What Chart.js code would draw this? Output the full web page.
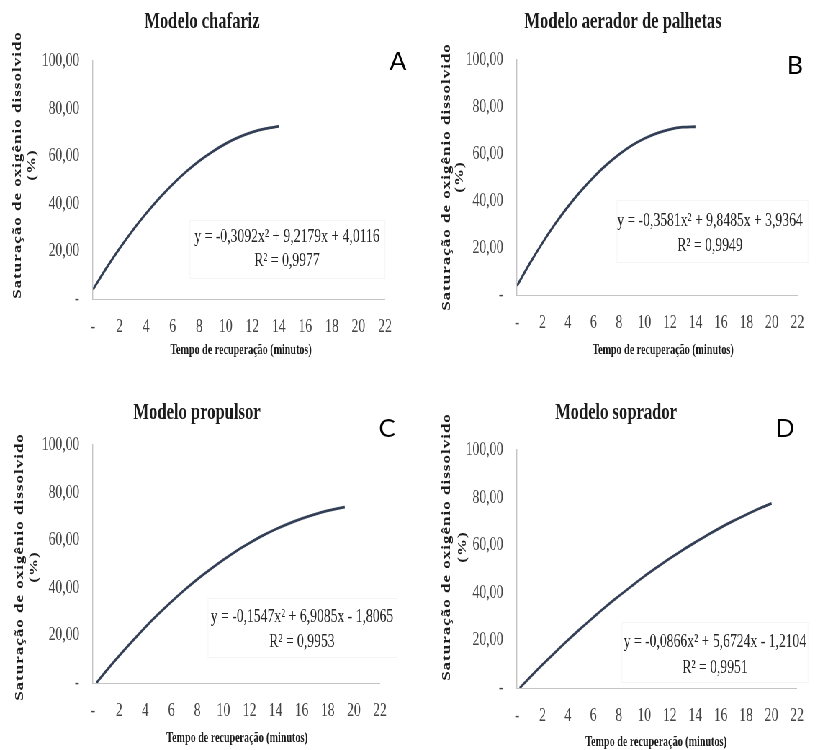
<!DOCTYPE html>
<html>
<head>
<meta charset="utf-8">
<script src="https://cdn.jsdelivr.net/npm/chart.js@4.4.1/dist/chart.umd.min.js"></script>
<style>
  html, body { margin: 0; padding: 0; background: #fff; overflow: hidden; width: 816px; height: 750px; }
  #stage { position: absolute; left: 0; top: 0; transform: scaleX(0.72); transform-origin: 0 0; }
  #stage canvas { position: absolute; left: 0; top: 0; }
</style>
</head>
<body>
<div id="stage">
  <canvas id="chartA" width="1134" height="750"></canvas>
  <canvas id="chartB" width="1134" height="750"></canvas>
  <canvas id="chartC" width="1134" height="750"></canvas>
  <canvas id="chartD" width="1134" height="750"></canvas>
</div>
<script>
// values (minutes -> % saturation)
const minutesA = [0, 1, 2, 3, 4, 5, 6, 7, 8, 9, 10, 11, 12, 13, 14];
const chafariz = [4.0, 12.9, 21.2, 28.9, 35.9, 42.4, 48.2, 53.4, 58.0, 61.9, 65.3, 68.0, 70.1, 71.6, 72.5];

const minutesB = [0, 1, 2, 3, 4, 5, 6, 7, 8, 9, 10, 11, 12, 13, 14];
const palhetas = [3.9, 13.4, 22.2, 30.3, 37.6, 44.2, 50.1, 55.3, 59.8, 63.6, 66.6, 68.9, 70.5, 71.4, 71.6];

const minutesC = [0.26, 1, 2, 3, 4, 5, 6, 7, 8, 9, 10, 11, 12, 13, 14, 15, 16, 17, 18, 19, 19.3];
const propulsor = [0, 5.0, 11.4, 17.5, 23.4, 28.9, 34.1, 39.0, 43.6, 47.8, 51.8, 55.5, 58.8, 61.9, 64.6, 67.0, 69.1, 70.9, 72.4, 73.6, 73.9];

const minutesD = [0.21, 1, 2, 3, 4, 5, 6, 7, 8, 9, 10, 11, 12, 13, 14, 15, 16, 17, 18, 19, 20];
const soprador = [0, 4.4, 9.8, 15.0, 20.1, 25.0, 29.7, 34.3, 38.6, 42.8, 46.9, 50.7, 54.4, 57.9, 61.2, 64.4, 67.4, 70.2, 72.8, 75.3, 77.6];

const xTicks = [0, 2, 4, 6, 8, 10, 12, 14, 16, 18, 20, 22];
const yTicks = [0, 20, 40, 60, 80, 100];

const titles = ['Modelo chafariz', 'Modelo aerador de palhetas', 'Modelo propulsor', 'Modelo soprador'];
const equations = [
  'y = -0,3092x² + 9,2179x + 4,0116',
  'y = -0,3581x² + 9,8485x + 3,9364',
  'y = -0,1547x² + 6,9085x - 1,8065',
  'y = -0,0866x² + 5,6724x - 1,2104'
];
const rSquared = ['R² = 0,9977', 'R² = 0,9949', 'R² = 0,9953', 'R² = 0,9951'];
const letters = ['A', 'B', 'C', 'D'];

const yTitle = ['Saturação de oxigênio dissolvido', '(%)'];
const xTitle = 'Tempo de recuperação (minutos)';

const S = 0.72;          // horizontal squeeze of the original figure
const CW = 1134, CH = 750;
const LINE = '#333f56';

// screen positions of every panel piece
const panels = [
  { id: 'chartA', xs: minutesA, ys: chafariz,
    area: { left: 93, right: 385, top: 61, bottom: 299 },
    title: [202, 22], yT: [18, 32, 165], xT: [241, 350], eq: [287, 237, 261],
    box: [190, 220, 385, 278], letter: [398, 70] },
  { id: 'chartB', xs: minutesB, ys: palhetas,
    area: { left: 517, right: 807, top: 60, bottom: 295 },
    title: [623, 22], yT: [447, 460, 177], xT: [663, 350], eq: [710, 221, 246],
    box: [617, 200, 808, 262], letter: [795, 74] },
  { id: 'chartC', xs: minutesC, ys: propulsor,
    area: { left: 93, right: 380, top: 445, bottom: 683 },
    title: [197, 413], yT: [20, 34, 567], xT: [237, 738], eq: [302, 617, 642],
    box: [208, 598, 397, 657], letter: [387, 437] },
  { id: 'chartD', xs: minutesD, ys: soprador,
    area: { left: 517, right: 797, top: 450, bottom: 688 },
    title: [616, 413], yT: [447, 463, 547], xT: [656, 742], eq: [715, 642, 668],
    box: [622, 622, 808, 682], letter: [785, 437] }
];

function panelTexts(p, i) {
  return {
    id: 'panelTexts',
    afterDraw(chart) {
      const ctx = chart.ctx;
      ctx.save();
      ctx.textAlign = 'center';
      ctx.textBaseline = 'middle';

      ctx.fillStyle = '#1c1c1c';
      ctx.font = 'bold 23px "Liberation Serif"';
      ctx.fillText(titles[i], p.title[0] / S, p.title[1]);

      ctx.font = 'bold 14px "Liberation Serif"';
      ctx.fillText(xTitle, p.xT[0] / S, p.xT[1]);

      ctx.font = 'bold 17px "Liberation Serif"';
      ctx.letterSpacing = '1px';
      [p.yT[0], p.yT[1]].forEach((x, k) => {
        ctx.save();
        ctx.translate(x / S, p.yT[2]);
        ctx.rotate(-Math.PI / 2);
        ctx.fillText(yTitle[k], 0, 0);
        ctx.restore();
      });
      ctx.letterSpacing = '0px';

      // faint frame round the trendline label
      ctx.strokeStyle = '#f5f5f5';
      ctx.lineWidth = 1;
      ctx.strokeRect(p.box[0] / S, p.box[1] + 0.5, (p.box[2] - p.box[0]) / S, p.box[3] - p.box[1]);

      ctx.fillStyle = '#262626';
      ctx.font = '19px "Liberation Serif"';
      ctx.fillText(equations[i], p.eq[0] / S, p.eq[1]);
      ctx.fillText(rSquared[i], p.eq[0] / S, p.eq[2]);

      ctx.scale(1 / S, 1);
      ctx.fillStyle = '#000';
      ctx.font = '25px Lato';
      ctx.textBaseline = 'alphabetic';
      ctx.fillText(letters[i], p.letter[0], p.letter[1]);
      ctx.restore();
    }
  };
}

function fmtY(v) {
  return v === 0 ? '-' : v.toFixed(2).replace('.', ',');
}

panels.forEach((p, i) => {
  new Chart(document.getElementById(p.id), {
    type: 'line',
    data: {
      datasets: [{
        data: p.xs.map((x, k) => ({ x, y: p.ys[k] })),
        borderColor: LINE,
        borderWidth: 2.8,
        pointRadius: 0,
        fill: false,
        cubicInterpolationMode: 'monotone'
      }]
    },
    options: {
      responsive: false,
      devicePixelRatio: 1,
      animation: false,
      layout: { padding: { left: 0, top: p.area.top, right: CW - p.area.right / S, bottom: 0 } },
      plugins: { legend: { display: false }, tooltip: { enabled: false } },
      scales: {
        x: {
          type: 'linear', min: 0, max: 22,
          afterBuildTicks: (s) => { s.ticks = xTicks.map((v) => ({ value: v })); },
          afterFit: (s) => { s.height = CH - p.area.bottom; },
          grid: { display: false, drawTicks: false },
          border: { display: true, color: '#c4c4c4', width: 1 },
          ticks: {
            padding: 17, color: '#444', maxRotation: 0, autoSkip: false,
            font: { family: '"Liberation Serif"', size: 19 },
            callback: (v) => (v === 0 ? '-' : String(v))
          }
        },
        y: {
          type: 'linear', min: 0, max: 100,
          afterBuildTicks: (s) => { s.ticks = yTicks.map((v) => ({ value: v })); },
          afterFit: (s) => { s.width = p.area.left / S; },
          grid: { display: false, drawTicks: false },
          border: { display: true, color: '#c4c4c4', width: 1.4 },
          ticks: {
            padding: 19, color: '#444', autoSkip: false,
            font: { family: '"Liberation Serif"', size: 19 },
            callback: fmtY
          }
        }
      }
    },
    plugins: [panelTexts(p, i)]
  });
});
</script>
</body>
</html>
